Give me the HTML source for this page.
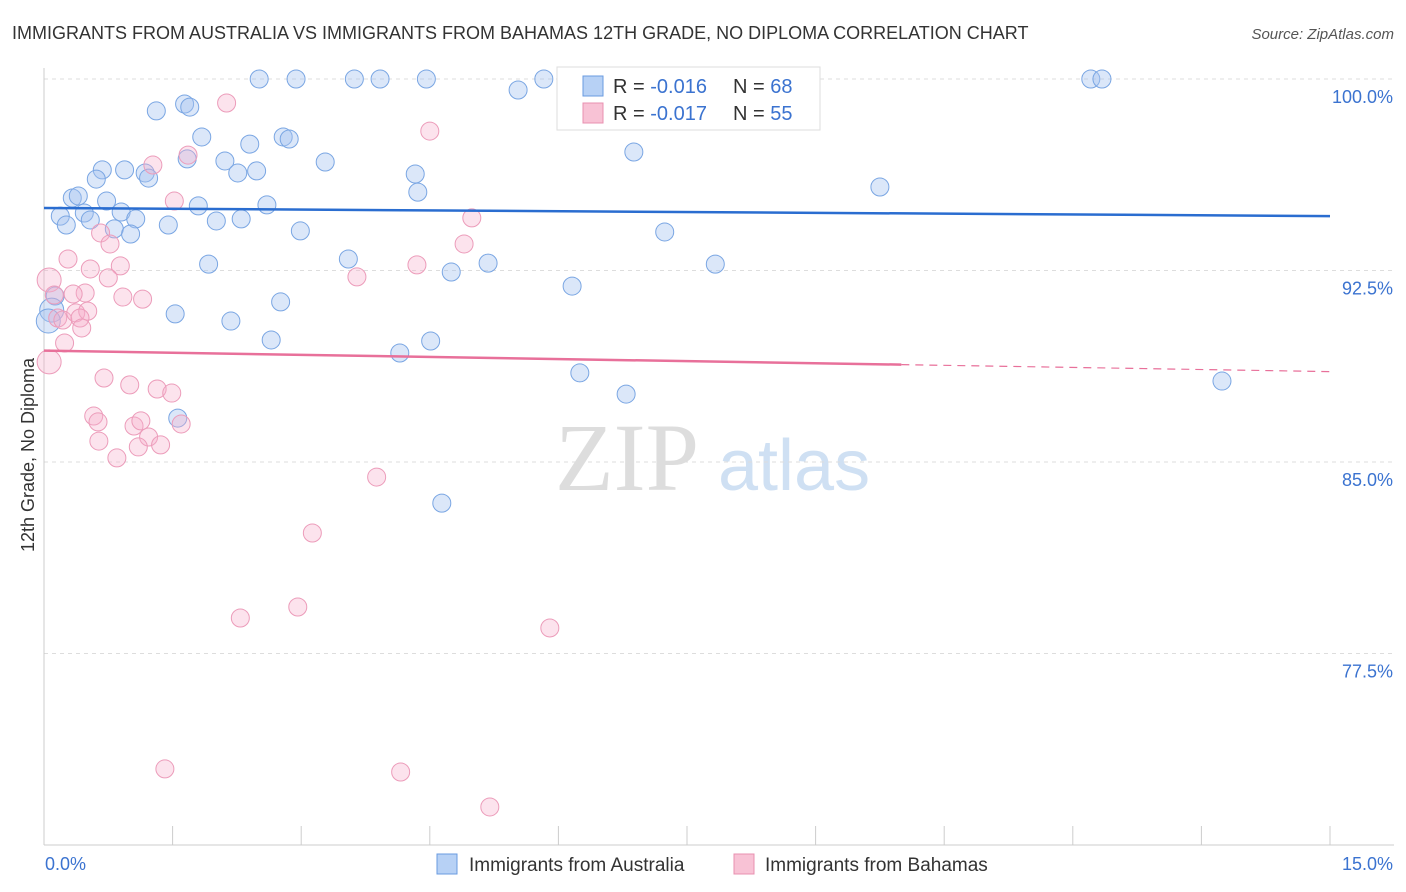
<!DOCTYPE html>
<html><head><meta charset="utf-8">
<style>
body{margin:0;background:#fff;font-family:"Liberation Sans",sans-serif;}
#wrap{position:relative;width:1406px;height:892px;overflow:hidden;}
</style></head>
<body><div id="wrap">
<svg id="chart" width="1406" height="892">
<text x="12" y="39" font-size="18" fill="#333">IMMIGRANTS FROM AUSTRALIA VS IMMIGRANTS FROM BAHAMAS 12TH GRADE, NO DIPLOMA CORRELATION CHART</text>
<text x="1394" y="39" font-size="15" fill="#555" font-style="italic" text-anchor="end">Source: ZipAtlas.com</text>
<text x="555" y="490" font-size="96" fill="#ddd" font-family="Liberation Serif">ZIP</text>
<text x="718" y="490" font-size="72" fill="#cfe0f3">atlas</text>
<text transform="translate(34,455) rotate(-90)" font-size="18" fill="#333" text-anchor="middle">12th Grade, No Diploma</text>
<g id="grid"></g><g id="axes"></g><g id="pts"></g><g id="trend"></g>
<g>
<rect x="557" y="67" width="263" height="63" fill="#fff" stroke="#ddd"/>
<rect x="583" y="76" width="20" height="20" fill="#b7d1f5" stroke="#6a9be0"/>
<rect x="583" y="103" width="20" height="20" fill="#f8c2d5" stroke="#e890b0"/>
<text x="613" y="93" font-size="20" fill="#333">R = <tspan fill="#3b73d0">-0.016</tspan></text>
<text x="733" y="93" font-size="20" fill="#333">N = <tspan fill="#3b73d0">68</tspan></text>
<text x="613" y="120" font-size="20" fill="#333">R = <tspan fill="#3b73d0">-0.017</tspan></text>
<text x="733" y="120" font-size="20" fill="#333">N = <tspan fill="#3b73d0">55</tspan></text>
</g>
<g>
<rect x="437" y="854" width="20" height="20" fill="#b7d1f5" stroke="#6a9be0"/>
<text x="469" y="871" font-size="19" fill="#333">Immigrants from Australia</text>
<rect x="734" y="854" width="20" height="20" fill="#f8c2d5" stroke="#e890b0"/>
<text x="765" y="871" font-size="19" fill="#333">Immigrants from Bahamas</text>
</g>
</svg></div>
<script>
const yTicks=[100,92.5,85,77.5];
const yTickLabels=["100.0%","92.5%","85.0%","77.5%"];
const xTickLabels=["0.0%","15.0%"];
const ausX=[2.51,2.94,3.62,3.92,4.46,5.83,12.21,12.34,5.53,1.31,1.64,1.70,1.84,2.40,2.79,2.86,2.11,2.26,2.48,3.28,1.67,1.18,1.22,0.68,0.94,0.61,4.33,4.36,6.88,9.75,0.33,0.40,0.73,0.19,0.26,0.47,0.54,0.90,1.07,0.82,1.01,1.45,1.80,2.01,2.30,2.60,2.99,7.24,1.92,3.55,4.75,5.18,7.83,6.16,0.13,0.09,0.05,1.53,2.18,2.76,2.65,4.15,4.51,6.25,6.79,13.74,1.56,4.64];
const ausY=[100,100,100,100,100,100,100,100,99.57,98.75,99.02,98.90,97.73,97.45,97.73,97.65,96.79,96.32,96.40,96.75,96.87,96.32,96.12,96.44,96.44,96.08,96.28,95.57,97.14,95.77,95.34,95.42,95.22,94.63,94.28,94.75,94.48,94.79,94.52,94.13,93.93,94.28,95.03,94.44,94.52,95.07,94.05,94.01,92.75,92.95,92.44,92.79,92.75,91.89,91.50,90.95,90.52,90.80,90.52,91.27,89.78,89.27,89.74,88.49,87.66,88.17,86.72,83.39];
const bahX=[6.86,8.85,6.53,2.13,4.50,1.68,1.27,1.52,4.99,0.66,0.77,4.90,0.28,0.06,0.54,0.89,0.75,3.65,4.35,0.12,0.48,0.34,0.92,1.15,0.16,0.22,0.37,0.51,0.42,0.44,0.24,0.06,0.70,1.00,1.32,1.49,0.58,0.63,1.05,1.13,1.60,1.22,0.64,1.10,1.36,0.85,3.88,3.13,2.96,2.29,5.90,1.41,4.16,5.20];
const bahY=[100,100,98.67,99.06,97.96,97.02,96.63,95.22,94.56,93.97,93.54,93.54,92.95,92.13,92.56,92.68,92.21,92.25,92.72,91.54,91.62,91.58,91.46,91.38,90.64,90.56,90.84,90.91,90.64,90.25,89.66,88.92,88.29,88.02,87.86,87.70,86.80,86.57,86.41,86.61,86.49,85.98,85.82,85.59,85.67,85.16,84.41,82.22,79.32,78.89,78.50,72.98,72.86,71.49];
const ausTrend=[94.95,94.63];
const bahTrend=[89.36,88.54];
const bahSolidEnd=10.0;
const NS="http://www.w3.org/2000/svg";
const X0=44,X1=1330,Y100=79,PX=191.5/7.5;
function sx(v){return X0+(v/15)*(X1-X0);}
function sy(v){return Y100+(100-v)*PX;}
function mk(tag,attrs,parent){const e=document.createElementNS(NS,tag);for(const k in attrs)e.setAttribute(k,attrs[k]);parent.appendChild(e);return e;}
const grid=document.getElementById('grid'),axes=document.getElementById('axes');
yTicks.forEach((t,i)=>{
 const l=mk('line',{x1:X0,x2:1394,y1:sy(t),y2:sy(t),stroke:'#ddd','stroke-dasharray':'4,4'},grid);
 
 
 const tx=mk('text',{x:1393,y:sy(t)+24,'font-size':18,fill:'#3b73d0','text-anchor':'end'},axes);
 tx.textContent=yTickLabels[i];
 
 
});
const ya=mk('line',{x1:X0,x2:X0,y1:68,y2:845,stroke:'#ccc'},axes);


const xa=mk('line',{x1:X0,x2:1394,y1:845,y2:845,stroke:'#ccc'},axes);


for(let i=1;i<=10;i++){
 const t=mk('line',{x1:sx(i*1.5),x2:sx(i*1.5),y1:826,y2:845,stroke:'#ccc'},axes);
 
 
}
[[0,'start',45],[15,'end',1393]].forEach((d,i)=>{
 const tx=mk('text',{x:d[2],y:870,'font-size':18,fill:'#3b73d0','text-anchor':d[1]},axes);
 tx.textContent=xTickLabels[i];
 
 
});
const pts=document.getElementById('pts');
function drawPts(xs,ys,fill,stroke,name){
 xs.forEach((x,i)=>{
  const r=(x<0.1)?12:9;
  const c=mk('circle',{cx:sx(x),cy:sy(ys[i]),r:r,fill:fill,stroke:stroke,'stroke-width':1},pts);
  
  
 });
}
drawPts(ausX,ausY,'rgba(164,196,240,0.4)','#7aa6e3','point-australia');
drawPts(bahX,bahY,'rgba(246,176,204,0.35)','#ec9cba','point-bahamas');
const tr=document.getElementById('trend');
const a=mk('line',{x1:sx(0),y1:sy(ausTrend[0]),x2:sx(15),y2:sy(ausTrend[1]),stroke:'#2a6dd0','stroke-width':2.5},tr);


const ym=bahTrend[0]+(bahTrend[1]-bahTrend[0])*bahSolidEnd/15;
const b=mk('line',{x1:sx(0),y1:sy(bahTrend[0]),x2:sx(bahSolidEnd),y2:sy(ym),stroke:'#e8709a','stroke-width':2.5},tr);


const bd=mk('line',{x1:sx(bahSolidEnd),y1:sy(ym),x2:sx(15),y2:sy(bahTrend[1]),stroke:'#e8709a','stroke-width':1.2,'stroke-dasharray':'8,6'},tr);


</script>
</body></html>
